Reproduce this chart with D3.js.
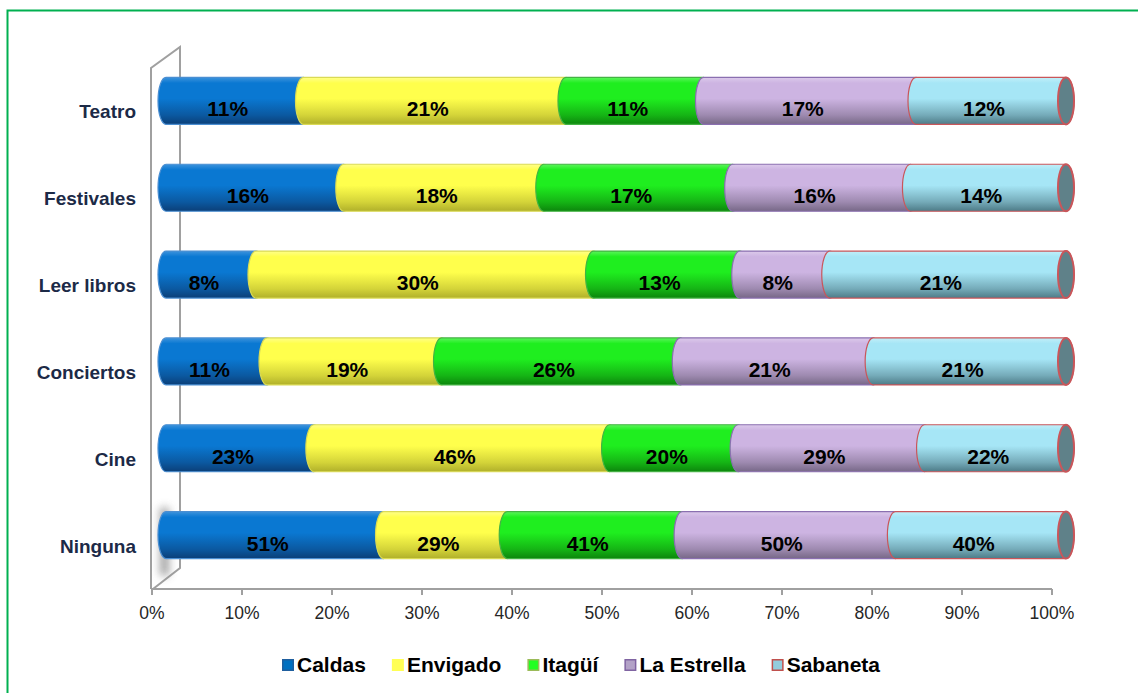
<!DOCTYPE html>
<html>
<head>
<meta charset="utf-8">
<script src="https://cdn.jsdelivr.net/npm/d3@7"></script>
<style>
  html, body { margin: 0; padding: 0; background: #fff; }
  svg { display: block; font-family: "Liberation Sans", Arial, sans-serif; }
</style>
</head>
<body>
<div id="chart"></div>
<script>
// DATA
const categories = ["Teatro", "Festivales", "Leer libros", "Conciertos", "Cine", "Ninguna"];
const seriesNames = ["Caldas", "Envigado", "Itagüí", "La Estrella", "Sabaneta"];
const caldas = [11, 16, 8, 11, 23, 51];
const envigado = [21, 18, 30, 19, 46, 29];
const itagui = [11, 17, 13, 26, 20, 41];
const laEstrella = [17, 16, 8, 21, 29, 50];
const sabaneta = [12, 14, 21, 21, 22, 40];
const xTicks = [0, 0.1, 0.2, 0.3, 0.4, 0.5, 0.6, 0.7, 0.8, 0.9, 1];

const seriesValues = [caldas, envigado, itagui, laEstrella, sabaneta];

// STYLE
const seriesStyle = [
  { light: "#3d93dc", base: "#0a78d2", dark: "#0b3f78", stroke: "#4a8ed2", legend: "#0070c0", legendStroke: "#1f5f9e" },
  { light: "#ffff8a", base: "#ffff4c", dark: "#b0b02a", stroke: "#dada55", legend: "#ffff55", legendStroke: "#ffff55" },
  { light: "#5cf55c", base: "#1fee1f", dark: "#0c860c", stroke: "#43b343", legend: "#22ff22", legendStroke: "#9bbb59" },
  { light: "#dccaeb", base: "#cdb4e2", dark: "#776887", stroke: "#8a6fb0", legend: "#b3a2c7", legendStroke: "#8064a2" },
  { light: "#c2eff9", base: "#a6e6f6", dark: "#4d7b87", stroke: "#c9565a", legend: "#93cddd", legendStroke: "#c0504d" }
];

const width = 1138;
const height = 693;

const svg = d3.select("#chart")
  .append("svg")
  .attr("width", width)
  .attr("height", height);

const defs = svg.append("defs");

seriesStyle.forEach((s, i) => {
  const g = defs.append("linearGradient")
    .attr("id", "cyl" + i)
    .attr("x1", 0).attr("y1", 0).attr("x2", 0).attr("y2", 1);
  [[0, s.light], [0.12, s.base], [0.45, s.base], [0.8, d3.interpolateRgb(s.base, s.dark)(0.55)], [1, s.dark]]
    .forEach(([o, c]) => g.append("stop").attr("offset", o).attr("stop-color", c));
});

defs.append("filter").attr("id", "blur")
  .attr("x", "-100%").attr("y", "-50%").attr("width", "300%").attr("height", "200%")
  .append("feGaussianBlur").attr("stdDeviation", 4);

// green frame
svg.append("rect")
  .attr("x", 7.5).attr("y", 10.5)
  .attr("width", 1200).attr("height", 800)
  .attr("fill", "none")
  .attr("stroke", "#00b050")
  .attr("stroke-width", 2);

// SCALES
const x = d3.scaleLinear().domain([0, 1]).range([152, 1052]);
const y = d3.scaleBand().domain(categories).range([68, 589]);
const depthX = 28, depthY = -21;
const barH = 47;
const rx = 8;

// WALLS
const wall = svg.append("g")
  .attr("fill", "none")
  .attr("stroke", "#a0a0a0")
  .attr("stroke-width", 2);

const x0 = x(0) - 1, yTop = y.range()[0], yBot = y.range()[1];
wall.append("path").attr("d", `M${x0},${yBot}V${yTop}L${x0 + depthX + 1},${yTop + depthY}V${yBot + depthY}L${x0 + 2},${yBot}`);

// shadow of bottom bar on the wall
const lastCat = categories[categories.length - 1];
svg.append("rect")
  .attr("x", x(0) + 8)
  .attr("y", y(lastCat) + y.bandwidth() / 2 - 38)
  .attr("width", 9)
  .attr("height", 68)
  .attr("fill", "#8a8a8a")
  .attr("opacity", 0.8)
  .attr("filter", "url(#blur)");

// X AXIS
const axisG = svg.append("g");
axisG.append("line")
  .attr("x1", x(0)).attr("x2", x(1))
  .attr("y1", yBot).attr("y2", yBot)
  .attr("stroke", "#a0a0a0").attr("stroke-width", 2);

axisG.selectAll("line.tick")
  .data(xTicks)
  .join("line")
  .attr("class", "tick")
  .attr("x1", (d) => x(d)).attr("x2", (d) => x(d))
  .attr("y1", yBot).attr("y2", yBot + 6)
  .attr("stroke", "#a0a0a0").attr("stroke-width", 2);

axisG.selectAll("text")
  .data(xTicks)
  .join("text")
  .attr("x", (d) => x(d))
  .attr("y", yBot + 30)
  .attr("text-anchor", "middle")
  .style("font-size", "17.5px")
  .style("fill", "#262626")
  .text((d) => Math.round(d * 100) + "%");

// CATEGORY LABELS
svg.append("g").selectAll("text")
  .data(categories)
  .join("text")
  .attr("x", 136)
  .attr("y", (d) => y(d) + y.bandwidth() / 2 + 7)
  .attr("text-anchor", "end")
  .style("font-size", "19px")
  .style("font-weight", "bold")
  .style("fill", "#1c2a47")
  .text((d) => d);

// BARS (100% stacked cylinders)
const bars = svg.append("g");
const labelsG = svg.append("g");

categories.forEach((cat, ci) => {
  const vals = seriesValues.map((s) => s[ci]);
  const total = d3.sum(vals);
  const cy = y(cat) + y.bandwidth() / 2 + depthY / 2;
  const top = cy - barH / 2, bot = cy + barH / 2;
  const ry = barH / 2;
  let acc = 0;

  vals.forEach((v, si) => {
    const a = acc / total, b = (acc + v) / total;
    acc += v;
    const xa = x(a) + depthX / 2, xb = x(b) + depthX / 2;
    const st = seriesStyle[si];

    bars.append("path")
      .attr("d", `M${xa},${top}L${xb},${top}A${rx},${ry} 0 0 1 ${xb},${bot}L${xa},${bot}A${rx},${ry} 0 0 1 ${xa},${top}Z`)
      .attr("fill", `url(#cyl${si})`)
      .attr("stroke", st.stroke)
      .attr("stroke-width", 1.2);

    if (si === vals.length - 1) {
      bars.append("ellipse")
        .attr("cx", xb).attr("cy", cy)
        .attr("rx", rx).attr("ry", ry)
        .attr("fill", "#5f8189")
        .attr("stroke", "#c9565a")
        .attr("stroke-width", 2);
    }

    labelsG.append("text")
      .attr("x", (x(a) + x(b)) / 2 + 7)
      .attr("y", y(cat) + y.bandwidth() / 2 + 5)
      .attr("text-anchor", "middle")
      .style("font-size", "21px")
      .style("font-weight", "bold")
      .style("fill", "#000")
      .text(v + "%");
  });
});

// LEGEND
const legend = svg.append("g").attr("transform", "translate(282, 659)");
let lx = 0;
seriesNames.forEach((name, i) => {
  const st = seriesStyle[i];
  const item = legend.append("g").attr("transform", `translate(${lx},0)`);
  item.append("rect")
    .attr("x", 0.75).attr("y", 0.75)
    .attr("width", 10.5).attr("height", 10.5)
    .attr("fill", st.legend)
    .attr("stroke", st.legendStroke)
    .attr("stroke-width", 1.5);
  const t = item.append("text")
    .attr("x", 15)
    .attr("y", 13)
    .style("font-size", "21px")
    .style("font-weight", "bold")
    .style("fill", "#000")
    .text(name);
  lx += 15 + t.node().getComputedTextLength() + 26;
});
</script>
</body>
</html>
